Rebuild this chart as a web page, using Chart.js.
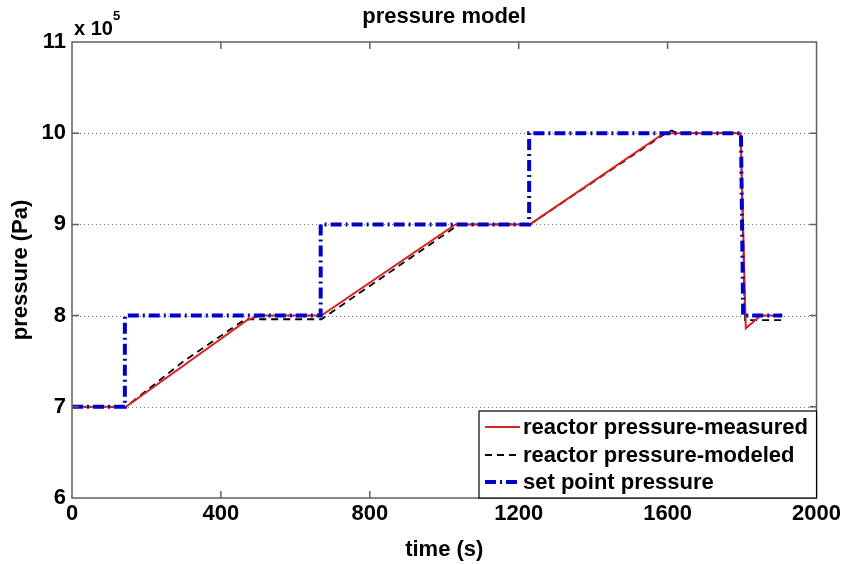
<!DOCTYPE html>
<html>
<head>
<meta charset="utf-8">
<script src="https://cdn.jsdelivr.net/npm/chart.js@4.4.1/dist/chart.umd.min.js"></script>
<style>
body{margin:0;background:#fff}
canvas{display:block}
</style>
</head>
<body>
<canvas id="pressureChart" width="844" height="564"></canvas>
<script>
// axis ticks
var timeTicks = [0, 400, 800, 1200, 1600, 2000];
var pressureTicks = [6, 7, 8, 9, 10, 11];

// pressure values are in units of 1e5 Pa, as on the axis
var measuredTime = [0, 145, 470, 505, 670, 1030, 1230, 1590, 1796, 1810, 1850, 1908];
var measuredP    = [7, 7, 7.95, 8, 8, 9, 9, 10, 10, 7.86, 8, 8];

var modeledTime = [0, 145, 300, 465, 670, 1040, 1230, 1595, 1611, 1625, 1796, 1808, 1908];
var modeledP    = [7, 7, 7.5, 7.96, 7.96, 9, 9, 10, 10.03, 10, 10, 7.95, 7.95];

var setTime = [0, 142, 142, 668, 668, 1228, 1228, 1797, 1803, 1908];
var setP    = [7, 7, 8, 8, 9, 9, 10, 10, 8, 8];

var seriesNames = ['reactor pressure-measured', 'reactor pressure-modeled', 'set point pressure'];

var FONT = "'Liberation Sans', Arial, sans-serif";

function toPoints(xs, ys){
    var pts = [];
    for (var i = 0; i < xs.length; i++){
        pts.push({x: xs[i], y: ys[i]});
    }
    return pts;
}

var frame = {
    id: 'frame',
    beforeDatasetsDraw: function(chart){
        var ctx = chart.ctx;
        var area = chart.chartArea;
        var y = chart.scales.y;
        ctx.save();
        ctx.strokeStyle = '#777';
        ctx.lineWidth = 1;
        ctx.setLineDash([1, 3]);
        for (var i = 1; i < pressureTicks.length - 1; i++){
            var py = Math.round(y.getPixelForValue(pressureTicks[i])) + 0.5;
            ctx.beginPath();
            ctx.moveTo(area.left, py);
            ctx.lineTo(area.right, py);
            ctx.stroke();
        }
        ctx.restore();
    },
    afterDatasetsDraw: function(chart){
        var ctx = chart.ctx;
        var area = chart.chartArea;
        var x = chart.scales.x;
        var y = chart.scales.y;
        var tick = 7;
        ctx.save();
        ctx.strokeStyle = '#606060';
        ctx.lineWidth = 1.5;
        ctx.setLineDash([]);
        ctx.strokeRect(area.left, area.top, area.right - area.left, area.bottom - area.top);
        ctx.beginPath();
        for (var i = 1; i < timeTicks.length - 1; i++){
            var px = x.getPixelForValue(timeTicks[i]);
            ctx.moveTo(px, area.bottom); ctx.lineTo(px, area.bottom - tick);
            ctx.moveTo(px, area.top); ctx.lineTo(px, area.top + tick);
        }
        for (var j = 1; j < pressureTicks.length - 1; j++){
            var py = y.getPixelForValue(pressureTicks[j]);
            ctx.moveTo(area.left, py); ctx.lineTo(area.left + tick, py);
            ctx.moveTo(area.right, py); ctx.lineTo(area.right - tick, py);
        }
        ctx.stroke();

        // legend box, lower right inside the axes
        var bx = 479, by = 411, bw = area.right - bx, bh = area.bottom - by;
        ctx.fillStyle = '#fff';
        ctx.fillRect(bx, by, bw, bh);
        ctx.strokeStyle = '#000';
        ctx.lineWidth = 1.2;
        ctx.strokeRect(bx, by, bw, bh);
        var rows = [427, 455, 482];
        var order = [1, 2, 0];
        ctx.font = 'bold 22px ' + FONT;
        ctx.textBaseline = 'middle';
        ctx.textAlign = 'left';
        for (var k = 0; k < rows.length; k++){
            var ds = chart.data.datasets[order[k]];
            ctx.beginPath();
            ctx.strokeStyle = ds.borderColor;
            ctx.lineWidth = ds.borderWidth;
            ctx.setLineDash(ds.borderDash || []);
            ctx.moveTo(485, rows[k]);
            ctx.lineTo(520, rows[k]);
            ctx.stroke();
            ctx.setLineDash([]);
            ctx.fillStyle = '#000';
            ctx.fillText(ds.label, 523, rows[k] + 1);
        }
        ctx.restore();
    },
    afterDraw: function(chart){
        var ctx = chart.ctx;
        var area = chart.chartArea;
        ctx.save();
        ctx.fillStyle = '#000';
        ctx.textBaseline = 'middle';
        ctx.textAlign = 'center';
        ctx.font = 'bold 22px ' + FONT;
        ctx.fillText('pressure model', (area.left + area.right) / 2, 17);
        ctx.textAlign = 'left';
        ctx.font = 'bold 20px ' + FONT;
        ctx.fillText('x 10', 74, 29);
        ctx.font = 'bold 13px ' + FONT;
        ctx.fillText('5', 113, 16);
        ctx.restore();
    }
};

var ctx = document.getElementById('pressureChart').getContext('2d');
var report = new Chart(ctx, {
    type: 'line',
    data: {
        datasets: [
            {
                label: seriesNames[2],
                data: toPoints(setTime, setP),
                borderColor: 'rgb(0, 0, 200)',
                borderWidth: 4,
                borderDash: [11, 4, 2, 4],
                pointRadius: 0,
                fill: false,
                tension: 0
            },
            {
                label: seriesNames[0],
                data: toPoints(measuredTime, measuredP),
                borderColor: 'rgb(215, 35, 35)',
                borderWidth: 2,
                pointRadius: 0,
                fill: false,
                tension: 0
            },
            {
                label: seriesNames[1],
                data: toPoints(modeledTime, modeledP),
                borderColor: '#000',
                borderWidth: 1.8,
                borderDash: [7, 5],
                pointRadius: 0,
                fill: false,
                tension: 0
            }
        ]
    },
    plugins: [frame],
    options: {
        responsive: false,
        animation: false,
        layout: {padding: {left: 0, top: 42, right: 26, bottom: 0}},
        plugins: {
            legend: {display: false},
            tooltip: {enabled: false}
        },
        scales: {
            x: {
                type: 'linear',
                min: timeTicks[0],
                max: timeTicks[timeTicks.length - 1],
                afterFit: function(s){ s.height = 66; },
                afterBuildTicks: function(s){ s.ticks = timeTicks.map(function(v){ return {value: v}; }); },
                grid: {display: false, drawTicks: false},
                border: {display: false},
                ticks: {
                    autoSkip: false,
                    maxRotation: 0,
                    padding: 3,
                    color: '#000',
                    callback: function(v){ return String(v); },
                    font: {family: FONT, size: 22, weight: 'bold'}
                },
                title: {
                    display: true,
                    text: 'time (s)',
                    color: '#000',
                    padding: {top: 0, bottom: 1},
                    font: {family: FONT, size: 22, weight: 'bold'}
                }
            },
            y: {
                type: 'linear',
                min: pressureTicks[0],
                max: pressureTicks[pressureTicks.length - 1],
                afterFit: function(s){ s.width = 72; },
                afterBuildTicks: function(s){ s.ticks = pressureTicks.map(function(v){ return {value: v}; }); },
                grid: {display: false, drawTicks: false},
                border: {display: false},
                ticks: {
                    autoSkip: false,
                    padding: 6,
                    color: '#000',
                    callback: function(v){ return String(v); },
                    font: {family: FONT, size: 22, weight: 'bold'}
                },
                title: {
                    display: true,
                    text: 'pressure (Pa)',
                    color: '#000',
                    padding: {top: 8, bottom: 0},
                    font: {family: FONT, size: 22, weight: 'bold'}
                }
            }
        }
    }
});
</script>
</body>
</html>
